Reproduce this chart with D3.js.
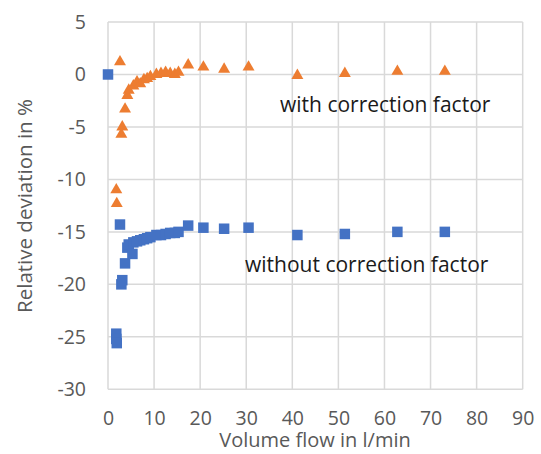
<!DOCTYPE html>
<html>
<head>
<meta charset="utf-8">
<script src="https://cdn.jsdelivr.net/npm/d3@7"></script>
<style>
  html, body { margin: 0; padding: 0; background: #fff; }
  svg { display: block; font-family: "Open Sans", "Noto Sans", sans-serif; }
</style>
</head>
<body>
<svg id="chart" width="541" height="454"></svg>
<script>
// Volume flow (l/min) and relative deviation (%) for each measurement
const flowWithout = [0, 1.8, 1.8, 1.9, 2.6, 2.9, 3.1, 3.7, 4.2, 4.5, 5.3, 5.5, 6.3, 7.0, 7.8, 8.5, 9.2, 10.5, 11.5, 12.5, 13.5, 14.5, 15.3, 17.4, 20.7, 25.2, 30.5, 41.1, 51.4, 62.8, 73.1];
const devWithout  = [0, -24.7, -25.2, -25.6, -14.3, -20.0, -19.6, -18.0, -16.5, -16.2, -17.1, -16.0, -15.9, -15.8, -15.7, -15.6, -15.5, -15.3, -15.3, -15.2, -15.1, -15.1, -15.0, -14.4, -14.6, -14.7, -14.6, -15.3, -15.2, -15.0, -15.0];

const flowWith = [1.8, 1.9, 2.6, 2.9, 3.1, 3.7, 4.2, 4.5, 5.5, 6.3, 7.0, 7.8, 8.5, 9.2, 10.5, 11.5, 12.5, 13.5, 14.5, 15.3, 17.4, 20.7, 25.2, 30.5, 41.1, 51.4, 62.8, 73.1];
const devWith  = [-11.0, -12.3, 1.2, -5.7, -5.0, -3.3, -2.0, -1.5, -1.1, -0.7, -0.9, -0.5, -0.4, -0.2, 0.0, 0.1, 0.2, 0.1, 0.0, 0.2, 0.9, 0.7, 0.5, 0.7, -0.1, 0.1, 0.3, 0.3];

const xTicks = [0, 10, 20, 30, 40, 50, 60, 70, 80, 90];
const yTicks = [5, 0, -5, -10, -15, -20, -25, -30];

const seriesLabels = ["with correction factor", "without correction factor"];
const xTitle = "Volume flow in l/min";
const yTitle = "Relative deviation in %";

const svg = d3.select("#chart");
const plotLeft = 108, plotRight = 522.7, plotTop = 22, plotBottom = 389.3;

const x = d3.scaleLinear().domain([0, 90]).range([plotLeft, plotRight]);
const y = d3.scaleLinear().domain([-30, 5]).range([plotBottom, plotTop]);

const textColor = "#595959";
const gridColor = "#d9d9d9";

// gridlines
const grid = svg.append("g");
grid.selectAll("line.v").data(xTicks).join("line")
  .attr("x1", d => x(d)).attr("x2", d => x(d))
  .attr("y1", plotTop).attr("y2", plotBottom)
  .attr("stroke", gridColor).attr("stroke-width", 1.5);
grid.selectAll("line.h").data(yTicks).join("line")
  .attr("x1", plotLeft).attr("x2", plotRight)
  .attr("y1", d => y(d)).attr("y2", d => y(d))
  .attr("stroke", gridColor).attr("stroke-width", 1.5);

// axes (labels only, lines come from the grid); plain hyphen for negatives
const fmt = d => String(d);
const xAxis = svg.append("g")
  .attr("transform", `translate(0,${plotBottom})`)
  .call(d3.axisBottom(x).tickValues(xTicks).tickFormat(fmt).tickSize(0).tickPadding(22));
const yAxis = svg.append("g")
  .attr("transform", `translate(${plotLeft},0)`)
  .call(d3.axisLeft(y).tickValues(yTicks).tickFormat(fmt).tickSize(0).tickPadding(22));
[xAxis, yAxis].forEach(a => {
  a.select(".domain").remove();
  a.selectAll("text").attr("fill", textColor)
    .style("font-family", "'Open Sans', sans-serif").style("font-size", "19.5px");
});

// axis titles
svg.append("text")
  .attr("x", 315).attr("y", 447)
  .attr("text-anchor", "middle").attr("fill", textColor)
  .style("font-size", "20px").text(xTitle);
svg.append("text")
  .attr("transform", `translate(32,206) rotate(-90)`)
  .attr("text-anchor", "middle").attr("fill", textColor)
  .style("font-size", "20.5px").text(yTitle);

// markers
const tri = d3.symbol().type(d3.symbolTriangle).size(62);
svg.append("g").selectAll("path").data(d3.zip(flowWith, devWith)).join("path")
  .attr("d", tri)
  .attr("transform", d => `translate(${x(d[0])},${y(d[1])})`)
  .attr("fill", "#ED7D31");

const sq = 10.5;
svg.append("g").selectAll("rect").data(d3.zip(flowWithout, devWithout)).join("rect")
  .attr("x", d => x(d[0]) - sq / 2).attr("y", d => y(d[1]) - sq / 2)
  .attr("width", sq).attr("height", sq)
  .attr("fill", "#4472C4");

// series annotations
svg.append("text").attr("x", 280).attr("y", 112)
  .attr("fill", "#1a1a1a").style("font-size", "21px").text(seriesLabels[0]);
svg.append("text").attr("x", 245).attr("y", 272)
  .attr("fill", "#1a1a1a").style("font-size", "21px").text(seriesLabels[1]);
</script>
</body>
</html>
